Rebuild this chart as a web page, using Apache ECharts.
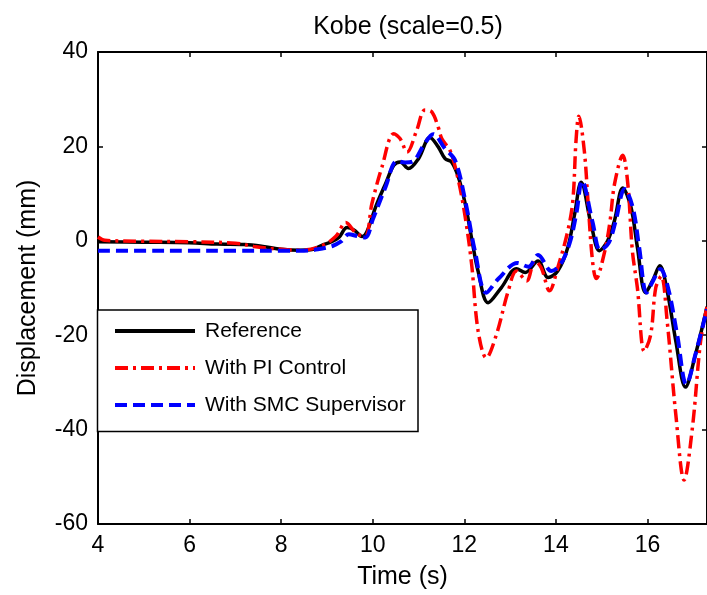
<!DOCTYPE html>
<html>
<head>
<meta charset="utf-8">
<script src="https://cdn.jsdelivr.net/npm/echarts@6/dist/echarts.min.js"></script>
<style>
  html, body { margin: 0; padding: 0; background: #fff; }
  #chart { width: 707px; height: 595px; }
</style>
</head>
<body>
<div id="chart"></div>
<script>
// ---------------- DATA ----------------
let seriesNames = ["Reference", "With PI Control", "With SMC Supervisor"];

let tRef = [4, 5, 6, 6.6, 7.2, 7.6, 8.0, 8.4, 8.7, 8.9, 9.1, 9.26, 9.44, 9.59, 9.77, 9.88, 10.06, 10.28, 10.46, 10.6, 10.78, 11.0, 11.25, 11.43, 11.58, 11.72, 11.87, 12.02, 12.16, 12.3, 12.52, 12.81, 13.14, 13.33, 13.61, 13.83, 14.04, 14.26, 14.41, 14.55, 14.77, 14.95, 15.13, 15.28, 15.46, 15.64, 15.78, 15.96, 16.11, 16.27, 16.43, 16.62, 16.83, 17.05, 17.3];
let vRef = [-0.2, -0.3, -0.4, -0.7, -0.8, -1.2, -1.8, -2.0, -1.8, -0.9, -0.2, 0.7, 2.8, 2.3, 0.9, 2.1, 7.1, 12.1, 16.0, 16.7, 15.3, 17.4, 21.9, 19.9, 17.4, 16.7, 13.5, 7.8, 0.5, -6.4, -13.1, -9.9, -5.9, -6.7, -4.3, -7.8, -6.4, -1.4, 5.7, 12.4, 3.5, -2.1, 0, 4.3, 11.2, 7.1, -1.4, -11, -8.5, -5.3, -10.6, -21.3, -31, -24, -14];

let tPI = [4, 4.15, 5, 6, 7, 7.4, 8.0, 8.4, 8.9, 9.2, 9.41, 9.66, 9.84, 9.98, 10.2, 10.46, 10.6, 10.75, 10.96, 11.14, 11.29, 11.43, 11.51, 11.69, 11.87, 12.02, 12.16, 12.3, 12.48, 12.7, 12.96, 13.14, 13.36, 13.54, 13.68, 13.86, 14.04, 14.26, 14.37, 14.44, 14.5, 14.62, 14.7, 14.8, 14.88, 15.06, 15.18, 15.28, 15.46, 15.57, 15.67, 15.78, 15.93, 16.07, 16.18, 16.3, 16.43, 16.62, 16.8, 16.98, 17.16, 17.3];
let vPI = [0.8, 0.1, -0.1, -0.2, -0.5, -1.2, -1.8, -2.0, -1.0, 1.0, 3.9, 1.4, 1.1, 7.8, 15.6, 22.7, 21.6, 18.8, 23.4, 27.7, 27.3, 24.1, 21.6, 19.1, 12.8, 5, -5, -19, -24.8, -19.9, -10.6, -6.4, -8.5, -4.3, -5.7, -10.6, -5.7, 2.1, 8.5, 21.3, 26.4, 19.1, 8.5, -4.3, -8.0, -2.5, 4, 12, 18.1, 12.1, -2.1, -10, -23.4, -19.9, -10, -7.5, -17, -36.9, -50.7, -39.7, -21.3, -14];

let tSMC = [4, 5, 6, 7, 8, 8.5, 8.8, 9.12, 9.3, 9.48, 9.66, 9.84, 10.0, 10.28, 10.53, 10.71, 10.89, 11.11, 11.32, 11.58, 11.8, 12.02, 12.23, 12.48, 12.75, 13.16, 13.4, 13.61, 13.9, 14.1, 14.3, 14.45, 14.57, 14.8, 14.97, 15.15, 15.3, 15.5, 15.68, 15.82, 15.98, 16.12, 16.28, 16.45, 16.65, 16.85, 17.05, 17.3];
let vSMC = [-2.1, -2.1, -2.1, -2.1, -2.1, -2.1, -1.8, -1.1, -0.2, 1.4, 1.0, 0.7, 4.5, 11.4, 16.9, 16.6, 16.9, 20.2, 22.6, 19.5, 17, 8.5, -2.1, -11, -8, -4.7, -5.5, -3, -6.4, -5, -0.5, 6, 12.7, 4, -2, -0.5, 4, 11, 7, -1.5, -11, -8.5, -6, -10, -20, -30.4, -24, -14.5];

let xTicks = { min: 4, max: 17.3, step: 2 };
let yTicks = { min: -60, max: 40, step: 20 };

function pairs(t, v) {
    return t.map((x, i) => [x, v[i]]);
}

// ---------------- CHART ----------------
let chart = echarts.init(document.getElementById("chart"), null, { renderer: "canvas" });

let font = "Liberation Sans, Arial, sans-serif";
let axisCommon = {
    type: "value",
    axisLine: { show: true, onZero: false, lineStyle: { color: "#000", width: 2 } },
    axisTick: { show: true, inside: true, length: 5, lineStyle: { color: "#000", width: 1.5 } },
    splitLine: { show: false }
};

chart.setOption({
    animation: false,
    backgroundColor: "#fff",
    title: {
        text: "Kobe (scale=0.5)",
        left: 403,
        top: 10,
        textAlign: "center",
        textStyle: { fontFamily: font, fontSize: 25, fontWeight: "normal", color: "#000" }
    },
    grid: { left: 98, top: 52, width: 611, height: 472 },
    legend: {
        orient: "vertical",
        left: 113,
        top: 319,
        padding: 0,
        itemWidth: 80,
        itemHeight: 14,
        itemGap: 13,
        data: seriesNames,
        itemStyle: { opacity: 0 },
        lineStyle: { width: 4 },
        textStyle: { fontFamily: font, fontSize: 21, color: "#000", lineHeight: 24, padding: [0, 0, 0, 5] }
    },
    graphic: [{
        type: "rect",
        z: 3,
        shape: { x: 97.5, y: 310, width: 320.5, height: 121.5 },
        style: { fill: "#fff", stroke: "#000", lineWidth: 1.5 }
    }],
    xAxis: [
        Object.assign({}, axisCommon, {
            min: xTicks.min, max: xTicks.max, interval: xTicks.step,
            position: "bottom",
            name: "Time (s)",
            nameLocation: "middle",
            nameGap: 41,
            nameTextStyle: { fontFamily: font, fontSize: 25, color: "#000" },
            axisLabel: { fontFamily: font, fontSize: 23, color: "#000", margin: 10, showMaxLabel: false }
        }),
        Object.assign({}, axisCommon, {
            min: xTicks.min, max: xTicks.max, interval: xTicks.step,
            position: "top",
            axisLabel: { show: false }
        })
    ],
    yAxis: [
        Object.assign({}, axisCommon, {
            min: yTicks.min, max: yTicks.max, interval: yTicks.step,
            position: "left",
            name: "Displacement (mm)",
            nameLocation: "middle",
            nameGap: 57,
            nameTextStyle: { fontFamily: font, fontSize: 25, color: "#000" },
            axisLabel: { fontFamily: font, fontSize: 23, color: "#000", margin: 10 }
        }),
        Object.assign({}, axisCommon, {
            min: yTicks.min, max: yTicks.max, interval: yTicks.step,
            position: "right",
            axisLabel: { show: false }
        })
    ],
    series: [
        {
            name: seriesNames[0], type: "line", data: pairs(tRef, vRef),
            symbol: "none", smooth: 0.35,
            lineStyle: { color: "#000", width: 3.5, type: "solid" },
            itemStyle: { color: "#000" }
        },
        {
            name: seriesNames[1], type: "line", data: pairs(tPI, vPI),
            symbol: "none", smooth: 0.35,
            lineStyle: { color: "#ff0000", width: 3.5, type: [13, 5, 3, 5] },
            itemStyle: { color: "#ff0000" }
        },
        {
            name: seriesNames[2], type: "line", data: pairs(tSMC, vSMC),
            symbol: "none", smooth: 0.35,
            lineStyle: { color: "#0000ff", width: 4, type: [12, 6] },
            itemStyle: { color: "#0000ff" }
        }
    ]
});
</script>
</body>
</html>
